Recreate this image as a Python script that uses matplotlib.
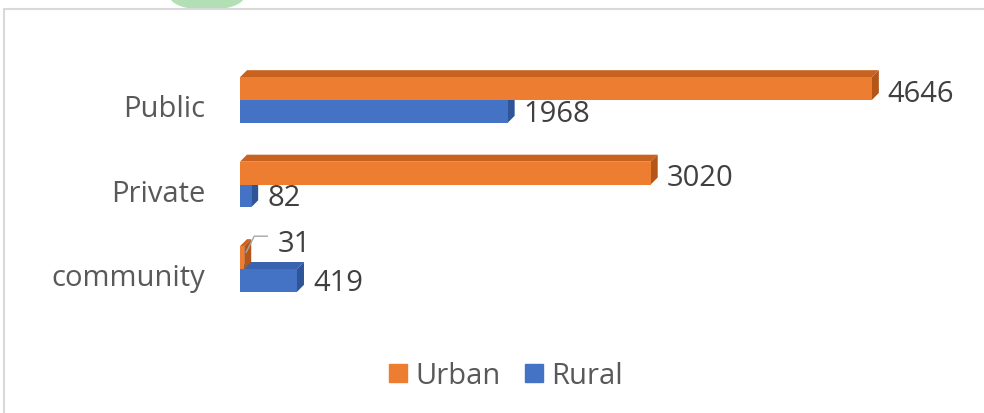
import matplotlib
matplotlib.use("Agg")
import matplotlib.pyplot as plt
from matplotlib.lines import Line2D
from matplotlib.patches import Ellipse, Polygon, Rectangle

categories = ["Public", "Private", "community"]
urban = [4646, 3020, 31]
rural = [1968, 82, 419]

ORANGE, ORANGE_TOP, ORANGE_SIDE = "#ED7D31", "#C8621F", "#B4561A"
BLUE, BLUE_TOP, BLUE_SIDE = "#4472C4", "#3A64B0", "#2E5597"
TEXT = "#595959"
VALUE_TEXT = "#404040"

W, H, DPI = 984, 414, 100
plt.rcParams["font.family"] = ["Open Sans", "DejaVu Sans"]

fig = plt.figure(figsize=(W / DPI, H / DPI), dpi=DPI)
fig.patch.set_facecolor("white")

# watermark blob at the top edge, then the chart frame
fig.add_artist(Ellipse((207 / W, 416 / H), 74 / W, 26 / H, transform=fig.transFigure,
                       facecolor="#B3DFB5", edgecolor="none"))
fig.add_artist(Rectangle((4 / W, -0.1), 1.1, (404 / H) + 0.1, transform=fig.transFigure,
                         fill=False, edgecolor="#D9D9D9", lw=1.5))

ax_left, ax_w = 240, 680
ax_bot, ax_h = 59.5, 338
ax = fig.add_axes([ax_left / W, ax_bot / H, ax_w / W, ax_h / H])
xmax = 5000
ax.set_xlim(0, xmax)
ax.set_ylim(-1, 3)
ax.axis("off")

px_x = xmax / ax_w
px_y = 4 / ax_h
dx, dy = 7 * px_x, 7 * px_y
bh = 0.27
ypos = [2, 1, 0]


def bar3d(val, y0, face, top, side, z):
    ax.barh(y0 + bh / 2, val, height=bh, color=face, zorder=z + 0.2)
    ax.add_patch(Polygon([(0, y0 + bh), (dx, y0 + bh + dy), (val + dx, y0 + bh + dy), (val, y0 + bh)],
                         closed=True, facecolor=top, lw=0, zorder=z))
    ax.add_patch(Polygon([(val, y0), (val + dx, y0 + dy), (val + dx, y0 + bh + dy), (val, y0 + bh)],
                         closed=True, facecolor=side, lw=0, zorder=z + 0.1))


for y, r in zip(ypos, rural):
    bar3d(r, y - bh, BLUE, BLUE_TOP, BLUE_SIDE, 1)
for y, u in zip(ypos, urban):
    bar3d(u, y, ORANGE, ORANGE_TOP, ORANGE_SIDE, 2)

fs = 21
pad = 9 * px_x
for y, u, r, c in zip(ypos, urban, rural, categories):
    ax.text(-35 * px_x, y - 16 * px_y, c, ha="right", va="baseline", fontsize=fs, color=TEXT)
    ax.text(r + dx + pad, y - bh + 2 * px_y, str(r), ha="left", va="baseline",
            fontsize=fs, color=VALUE_TEXT)
    if u < 200:
        # small value: label lifted with a leader line
        ax.plot([u + 2 * px_x, u + 10 * px_x, u + 23 * px_x],
                [y + bh - 6 * px_y, y + bh + 10 * px_y, y + bh + 10 * px_y],
                color="#A6A6A6", lw=1, zorder=5)
        ax.text(u + 33 * px_x, y + 18 * px_y, str(u), ha="left", va="baseline",
                fontsize=fs, color=VALUE_TEXT)
    else:
        ax.text(u + dx + pad, y - 1 * px_y, str(u), ha="left", va="baseline",
                fontsize=fs, color=VALUE_TEXT)

handles = [
    Line2D([], [], marker="s", linestyle="none", markersize=13, color=ORANGE, label="Urban"),
    Line2D([], [], marker="s", linestyle="none", markersize=13, color=BLUE, label="Rural"),
]
fig.legend(handles=handles, loc="center", bbox_to_anchor=(503 / W, 37 / H), ncol=2,
           frameon=False, fontsize=fs, labelcolor=TEXT, handletextpad=0.1,
           columnspacing=0.65, handlelength=1.0)

fig.savefig("out.png", dpi=DPI)
